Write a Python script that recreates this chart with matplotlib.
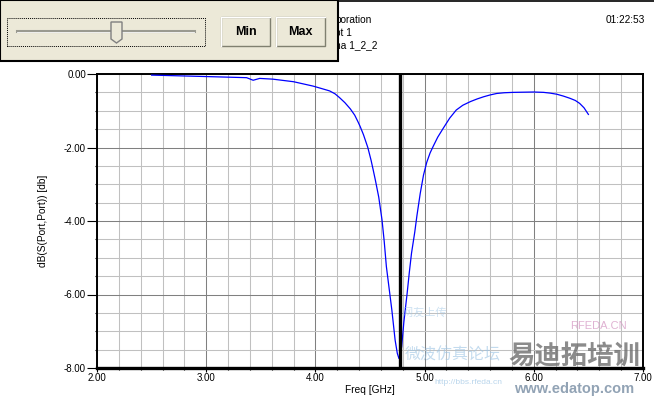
import matplotlib
matplotlib.use("Agg")
import matplotlib.pyplot as plt
from matplotlib.patches import Rectangle, Polygon
from matplotlib.ticker import MultipleLocator, FixedLocator

# data
freq_ghz = [2.50, 2.88, 3.25, 3.37, 3.43, 3.49, 3.61, 3.80, 3.98, 4.05,
            4.13, 4.18, 4.22, 4.27, 4.32, 4.36, 4.39, 4.41, 4.44, 4.48,
            4.51, 4.53, 4.55, 4.58, 4.61, 4.63, 4.65, 4.68, 4.70, 4.73,
            4.75, 4.765, 4.78, 4.79, 4.81, 4.84, 4.86, 4.88, 4.91, 4.93,
            4.96, 4.99, 5.02, 5.05, 5.08, 5.12, 5.17, 5.23, 5.29, 5.35,
            5.42, 5.48, 5.54, 5.60, 5.66, 5.73, 5.81, 6.00, 6.09, 6.15,
            6.21, 6.27, 6.33, 6.38, 6.42, 6.46, 6.50]
s11_db = [-0.03, -0.06, -0.09, -0.10, -0.17, -0.12, -0.14, -0.21, -0.33, -0.39,
          -0.46, -0.54, -0.64, -0.78, -0.95, -1.12, -1.30, -1.43, -1.65, -2.00,
          -2.35, -2.62, -2.90, -3.35, -3.97, -4.55, -5.24, -5.95, -6.42, -7.24,
          -7.60, -7.74, -7.60, -7.42, -6.75, -5.97, -5.40, -4.88, -4.30, -3.85,
          -3.25, -2.75, -2.40, -2.15, -1.96, -1.72, -1.48, -1.20, -0.98, -0.85,
          -0.75, -0.68, -0.62, -0.57, -0.53, -0.51, -0.50, -0.49, -0.50, -0.52,
          -0.55, -0.60, -0.66, -0.72, -0.80, -0.92, -1.10]
marker_freq = 4.775
x_ticks = [2, 3, 4, 5, 6, 7]
y_ticks = [0, -2, -4, -6, -8]
header_lines = ["poration", "pt 1", "na 1_2_2"]
time_text = "01:22:53"

W, H = 654, 396
plt.rcParams['font.family'] = ['Liberation Sans', 'DejaVu Sans']
fig = plt.figure(figsize=(W / 100, H / 100), dpi=100)
fig.patch.set_facecolor('white')

# plot area in pixels
x0, x1, y_top, y_bot = 97, 643, 74, 368
ax = fig.add_axes([x0 / W, 1 - y_bot / H, (x1 - x0) / W, (y_bot - y_top) / H])
ax.set_xlim(2, 7)
ax.set_ylim(-8, 0)

ax.xaxis.set_major_locator(FixedLocator(x_ticks))
ax.yaxis.set_major_locator(FixedLocator(y_ticks))
ax.xaxis.set_minor_locator(MultipleLocator(0.2))
ax.yaxis.set_minor_locator(MultipleLocator(0.5))
ax.set_xticklabels([f"{v:.2f}" for v in x_ticks])
ax.set_yticklabels([f"{v:.2f}" for v in y_ticks])

ax.grid(which='minor', color='#C0C0C0', lw=0.75)
ax.grid(which='major', color='#808080', lw=0.75)
ax.set_axisbelow(True)

ax.tick_params(axis='x', which='major', direction='out', length=3, width=0.8, pad=0.5, labelsize=7)
ax.tick_params(axis='y', which='major', direction='out', length=7.5, width=0.8, pad=0.5, labelsize=7)
ax.tick_params(which='minor', direction='out', length=1.5, width=0.8)

for side in ['left', 'top', 'right']:
    ax.spines[side].set_linewidth(1.4)
ax.spines['bottom'].set_linewidth(2.4)

ax.plot(freq_ghz, s11_db, color='#0000FF', lw=0.9, zorder=3)
ax.axvline(marker_freq, color='black', lw=2.4, zorder=4)

ax.set_xlabel('Freq [GHz]', fontsize=7.3, labelpad=1.5)
ax.set_ylabel('dB(S(Port,Port)) [db]', fontsize=7.3, labelpad=11)

# header text
for i, t in enumerate(header_lines):
    fig.text(335 / W, 1 - (20 + i * 12.5) / H, t, fontsize=7.3, va='center', ha='left')
fig.text(645 / W, 1 - 20 / H, time_text, fontsize=7.3, va='center', ha='right')
fig.add_artist(plt.Line2D([0, 1], [1 - 0.5 / H, 1 - 0.5 / H], color='black', lw=1.2))

# slider panel in the top-left corner
def px_rect(x, y, w, h, **kw):
    return Rectangle((x / W, 1 - (y + h) / H), w / W, h / H, transform=fig.transFigure, **kw)

fig.add_artist(px_rect(0, 0, 338, 61, facecolor='#ECE9D8', edgecolor='black', lw=1.5, zorder=10))
fig.add_artist(px_rect(7, 18, 198, 28, facecolor='#ECE9D8', edgecolor='black', lw=0.7,
                       linestyle=(0, (1, 1)), zorder=11))
fig.add_artist(plt.Line2D([17 / W, 194 / W], [1 - 31 / H, 1 - 31 / H], color='#9A9A90', lw=2.2, zorder=11))
fig.add_artist(plt.Line2D([17 / W, 194 / W], [1 - 32.2 / H, 1 - 32.2 / H], color='white', lw=0.6, zorder=11))
thumb = [(111, 22), (122, 22), (122, 39), (116.5, 43), (111, 39)]
fig.add_artist(Polygon([(x / W, 1 - y / H) for x, y in thumb], closed=True, transform=fig.transFigure,
                       facecolor='#ECE9D8', edgecolor='#808080', lw=1.0, zorder=12))
for bx, label in [(221, 'Min'), (276, 'Max')]:
    fig.add_artist(px_rect(bx, 17, 49, 29, facecolor='#ECE9D8', edgecolor='#808070', lw=1.0, zorder=11))
    fig.add_artist(plt.Line2D([bx / W, bx / W, (bx + 49) / W], [1 - 46 / H, 1 - 17 / H, 1 - 17 / H],
                              color='white', lw=1.0, zorder=12))
    fig.text((bx + 24.5) / W, 1 - 32 / H, label, fontsize=9, fontweight='bold',
             ha='center', va='center', zorder=13)

# faint watermark
cjk = ['Noto Sans CJK SC', 'DejaVu Sans']
fig.text(405 / W, 1 - 355 / H, '微波仿真论坛', fontsize=11.5, family=cjk, color='#9CC4E4',
         alpha=0.6, ha='left', va='center', zorder=5)
fig.text(402 / W, 1 - 313 / H, '网友上传', fontsize=8, family=cjk, color='#9CC4E4',
         alpha=0.5, ha='left', va='center', zorder=5)
fig.text(598 / W, 1 - 326 / H, 'RFEDA.CN', fontsize=8, color='#D8A0C8',
         alpha=0.8, ha='center', va='center', zorder=5)
fig.text(434 / W, 1 - 382 / H, 'http://bbs.rfeda.cn', fontsize=6, color='#9CC4E4',
         alpha=0.7, ha='left', va='center', zorder=5)
fig.text(574 / W, 1 - 357 / H, '易迪拓培训', fontsize=19, family=cjk, fontweight='bold',
         color='#6E6E6E', alpha=0.8, ha='center', va='center', zorder=6)
fig.text(574 / W, 1 - 389.5 / H, 'www.edatop.com', fontsize=10.5, fontweight='bold',
         color='#7F93A8', alpha=0.85, ha='center', va='center', zorder=6)

fig.savefig('out.png', dpi=100)
